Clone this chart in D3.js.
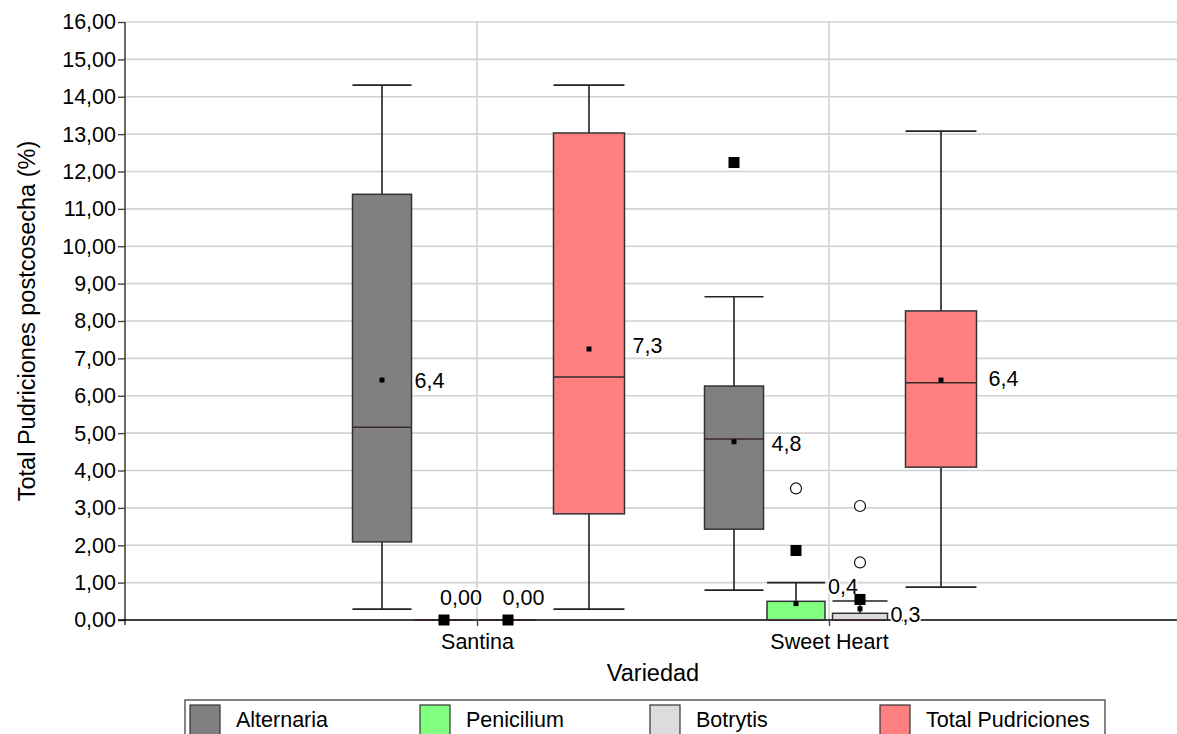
<!DOCTYPE html>
<html>
<head>
<meta charset="utf-8">
<script src="https://cdn.jsdelivr.net/npm/d3@7/dist/d3.min.js"></script>
<style>
  html, body { margin: 0; padding: 0; background: #fff; }
  svg { display: block; font-family: "Liberation Sans", Arial, sans-serif; }
</style>
</head>
<body>
<svg id="chart" width="1177" height="734"></svg>
<script>
// ---- data -------------------------------------------------------------
const categories = ["Santina", "Sweet Heart"];
const series = ["Alternaria", "Penicilium", "Botrytis", "Total Pudriciones"];
const seriesColors = ["#808080", "#80ff80", "#dcdcdc", "#ff8080"];

// one row per variety, one column per series
const whiskerLow  = [[0.29, 0, 0, 0.29], [0.80, 0, 0, 0.88]];
const quartile1   = [[2.09, 0, 0, 2.84], [2.43, 0, 0, 4.09]];
const medians     = [[5.16, 0, 0, 6.50], [4.84, 0, 0, 6.35]];
const quartile3   = [[11.39, 0, 0, 13.03], [6.26, 0.50, 0.18, 8.27]];
const whiskerHigh = [[14.31, 0, 0, 14.31], [8.65, 1.00, 0.51, 13.08]];
const means       = [[6.42, 0, 0, 7.25], [4.77, 0.44, 0.30, 6.42]];
// outside values (open circles) and far-out values (filled squares)
const outliers    = [[[], [], [], []], [[], [3.52], [3.05, 1.54], []]];
const farOutliers = [[[], [0], [0], []], [[12.24], [1.86], [0.55], []]];

const yTicks = d3.range(0, 17, 1);
const yTitle = "Total Pudriciones postcosecha (%)";
const xTitle = "Variedad";

// ---- layout -----------------------------------------------------------
const W = 1177, H = 734;
const plot = { left: 125, right: 1181, top: 22, bottom: 620 };
const fontSize = 21.5;
const titleSize = 23.5;

const svg = d3.select("#chart");

const y = d3.scaleLinear().domain([0, 16]).range([plot.bottom, plot.top]);
const x = d3.scalePoint().domain(categories).range([plot.left, plot.right]).padding(1);
// position and width of each series inside a variety
const seriesOffset = d3.scaleOrdinal().domain(series).range([-95, -33, 31, 112]);
const seriesWidth  = d3.scaleOrdinal().domain(series).range([59, 58, 55, 71]);
const color = d3.scaleOrdinal().domain(series).range(seriesColors);

const locale = d3.formatLocale({ decimal: ",", thousands: ".", grouping: [3], currency: ["", ""] });
const fmtTick = locale.format(".2f");
const fmtMean = v => v === 0 ? locale.format(".2f")(v) : locale.format(".1f")(v);

// ---- grid -------------------------------------------------------------
const grid = svg.append("g");
grid.selectAll("line.h").data(yTicks.filter(d => d > 0)).join("line")
  .attr("x1", plot.left).attr("x2", W)
  .attr("y1", d => y(d)).attr("y2", d => y(d))
  .attr("stroke", "#d2d2d2").attr("stroke-width", 1.6);
grid.selectAll("line.v").data(categories).join("line")
  .attr("x1", d => x(d)).attr("x2", d => x(d))
  .attr("y1", plot.top).attr("y2", plot.bottom)
  .attr("stroke", "#d2d2d2").attr("stroke-width", 1.6);

// ---- axes -------------------------------------------------------------
const yAxis = svg.append("g").attr("transform", `translate(${plot.left},0)`)
  .call(d3.axisLeft(y).tickValues(yTicks).tickFormat(fmtTick).tickSize(7).tickPadding(2));
yAxis.select(".domain").attr("stroke", "#444").attr("stroke-width", 1.6)
  .attr("d", `M0,${plot.top}V${plot.bottom + 5}`);
yAxis.selectAll(".tick line").attr("stroke", "#444").attr("stroke-width", 1.4);
yAxis.selectAll(".tick text").attr("fill", "#000").attr("font-size", fontSize)
  .attr("font-family", "Liberation Sans, Arial, sans-serif");

const xAxis = svg.append("g").attr("transform", `translate(0,${plot.bottom})`)
  .call(d3.axisBottom(x).tickSize(6).tickPadding(8));
xAxis.select(".domain").attr("stroke", "#000").attr("stroke-width", 1.6)
  .attr("d", `M${plot.left - 7},0H${W}`);
xAxis.selectAll(".tick line").attr("stroke", "#444").attr("stroke-width", 1.4);
xAxis.selectAll(".tick text").attr("fill", "#000").attr("font-size", fontSize)
  .attr("font-family", "Liberation Sans, Arial, sans-serif");

svg.append("text")
  .attr("transform", `translate(35,${(plot.top + plot.bottom) / 2}) rotate(-90)`)
  .attr("text-anchor", "middle").attr("font-size", titleSize).attr("fill", "#000")
  .text(yTitle);
svg.append("text")
  .attr("x", (plot.left + plot.right) / 2).attr("y", 681)
  .attr("text-anchor", "middle").attr("font-size", titleSize).attr("fill", "#000")
  .text(xTitle);

// ---- boxes ------------------------------------------------------------
const boxes = [];
categories.forEach((cat, i) => {
  series.forEach((s, j) => {
    boxes.push({
      cat, s, i, j,
      lo: whiskerLow[i][j], q1: quartile1[i][j], med: medians[i][j],
      q3: quartile3[i][j], hi: whiskerHigh[i][j], mean: means[i][j],
      out: outliers[i][j], far: farOutliers[i][j]
    });
  });
});

const cx = d => x(d.cat) + seriesOffset(d.s);
const half = d => seriesWidth(d.s) / 2;

const g = svg.append("g");
const box = g.selectAll("g.box").data(boxes).join("g").attr("class", "box");

// whiskers
box.append("line")
  .attr("x1", cx).attr("x2", cx)
  .attr("y1", d => y(d.hi)).attr("y2", d => y(d.q3))
  .attr("stroke", "#111").attr("stroke-width", 1.5);
box.append("line")
  .attr("x1", cx).attr("x2", cx)
  .attr("y1", d => y(d.q1)).attr("y2", d => y(d.lo))
  .attr("stroke", "#111").attr("stroke-width", 1.5);
box.append("line")
  .attr("x1", d => cx(d) - half(d)).attr("x2", d => cx(d) + half(d))
  .attr("y1", d => y(d.hi)).attr("y2", d => y(d.hi))
  .attr("stroke", "#222").attr("stroke-width", 1.6);
box.append("line")
  .attr("x1", d => cx(d) - half(d)).attr("x2", d => cx(d) + half(d))
  .attr("y1", d => y(d.lo)).attr("y2", d => y(d.lo))
  .attr("stroke", "#222").attr("stroke-width", 1.6);

// box body and median
box.append("rect")
  .attr("x", d => cx(d) - half(d)).attr("width", d => seriesWidth(d.s))
  .attr("y", d => y(d.q3)).attr("height", d => y(d.q1) - y(d.q3))
  .attr("fill", d => color(d.s)).attr("stroke", "#333").attr("stroke-width", 1.5);
box.append("line")
  .attr("x1", d => cx(d) - half(d)).attr("x2", d => cx(d) + half(d))
  .attr("y1", d => y(d.med)).attr("y2", d => y(d.med))
  .attr("stroke", "#3a2a2a").attr("stroke-width", 1.5);

// mean marker
box.append("rect")
  .attr("x", d => cx(d) - 2.5).attr("y", d => y(d.mean) - 2.5)
  .attr("width", 5).attr("height", 5).attr("fill", "#000");

// outside values
box.selectAll("circle").data(d => d.out.map(v => ({ d, v }))).join("circle")
  .attr("cx", o => cx(o.d)).attr("cy", o => y(o.v)).attr("r", 5.5)
  .attr("fill", "#fff").attr("stroke", "#111").attr("stroke-width", 1.2);
box.selectAll("rect.far").data(d => d.far.map(v => ({ d, v }))).join("rect")
  .attr("class", "far")
  .attr("x", o => cx(o.d) - 5.5).attr("y", o => y(o.v) - 5.5)
  .attr("width", 11).attr("height", 11).attr("fill", "#000");

// mean labels; a few are shifted so they clear neighbouring marks
const labelNudge = {
  "Santina|Alternaria": [0, 0],
  "Santina|Penicilium": [-36, -23],
  "Santina|Botrytis": [-36, -23],
  "Santina|Total Pudriciones": [5, -4],
  "Sweet Heart|Alternaria": [5, 2],
  "Sweet Heart|Penicilium": [0, -17],
  "Sweet Heart|Botrytis": [0, 5],
  "Sweet Heart|Total Pudriciones": [9, -2]
};
box.append("text")
  .attr("x", d => cx(d) + half(d) + 3 + labelNudge[d.cat + "|" + d.s][0])
  .attr("y", d => y(d.mean) + labelNudge[d.cat + "|" + d.s][1])
  .attr("dy", "0.36em")
  .attr("font-size", fontSize).attr("fill", "#000")
  .attr("paint-order", "stroke").attr("stroke", "#fff").attr("stroke-width", 3)
  .text(d => fmtMean(d.mean));

// ---- legend -----------------------------------------------------------
const legend = svg.append("g");
legend.append("rect")
  .attr("x", 185).attr("y", 700).attr("width", 920).attr("height", 50)
  .attr("fill", "#fff").attr("stroke", "#333").attr("stroke-width", 1.2);
const item = legend.selectAll("g.item").data(series).join("g")
  .attr("transform", (d, i) => `translate(${190 + i * 230},0)`);
item.append("rect")
  .attr("x", 0).attr("y", 705).attr("width", 30).attr("height", 40)
  .attr("fill", d => color(d)).attr("stroke", "#333").attr("stroke-width", 1.2);
item.append("text")
  .attr("x", 46).attr("y", 727)
  .attr("font-size", fontSize).attr("fill", "#000")
  .text(d => d);
</script>
</body>
</html>
